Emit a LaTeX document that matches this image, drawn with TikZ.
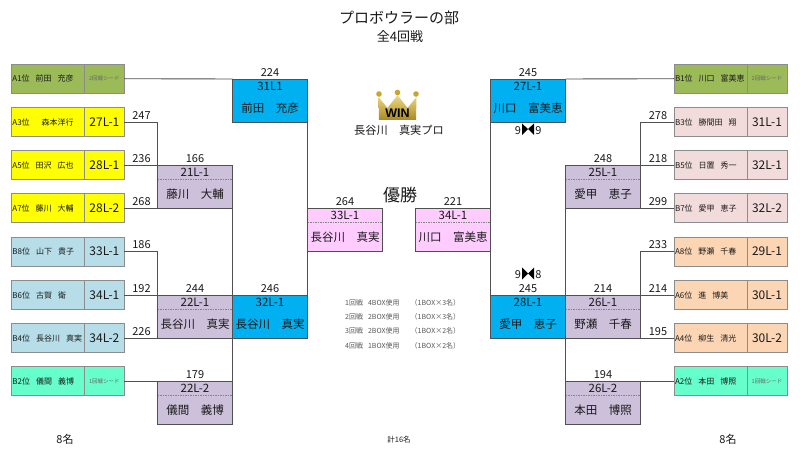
\documentclass[tikz,border=0pt]{standalone}
\usepackage{fontspec}
\setmainfont{Noto Sans CJK JP}
\newfontfamily\winfont{Liberation Sans}
\definecolor{olv}{HTML}{9BBB59}
\definecolor{yel}{HTML}{FFFF00}
\definecolor{lbl}{HTML}{B7DDE8}
\definecolor{sea}{HTML}{66FFCC}
\definecolor{pnk}{HTML}{F2DCDB}
\definecolor{org}{HTML}{FCD5B4}
\definecolor{mau}{HTML}{CCC0DA}
\definecolor{blu}{HTML}{00B0F0}
\definecolor{lil}{HTML}{FFCCFF}
\definecolor{ink}{HTML}{1A1A1A}
\definecolor{wire}{HTML}{505050}
\definecolor{goldlight}{HTML}{EFD98A}
\definecolor{goldmid}{HTML}{C9A52F}
\definecolor{golddark}{HTML}{A98A20}
\newcommand{\gp}{\hspace{6pt}}
\newcommand{\fs}[1]{\fontsize{#1}{#1}\selectfont}
\tikzset{
  namecell/.style={draw=black!45,line width=0.7pt,outer sep=0pt,minimum height=29pt,text width=71pt,inner xsep=1pt,inner ysep=0pt,align=left,anchor=west,font=\fs{8},text=ink},
  roundcell/.style={draw=black!45,line width=0.7pt,outer sep=0pt,minimum height=29pt,minimum width=40pt,inner sep=0pt,anchor=west,font=\fs{12},text=ink},
  seedcell/.style={roundcell,font=\fs{5.5},text=black!60},
  matchcell/.style={draw=wire,line width=0.8pt,outer sep=0pt,minimum width=75pt,minimum height=43pt,inner sep=0pt,anchor=north west},
  matchlabel/.style={font=\fs{11.5},text=ink,inner sep=0pt},
  playername/.style={font=\fs{11.5},text=ink,inner sep=0pt},
  score/.style={font=\fs{11},text=ink,inner sep=0pt},
  note/.style={font=\fs{7},text=black!65,inner sep=0pt,anchor=base west},
  conn/.style={draw=wire,line width=0.9pt},
  dashline/.style={draw=wire!70,line width=0.4pt,dash pattern=on 1.5pt off 1pt}
}
% \listrow{name}{x}{y}{fill}{player}{round}{style}
\newcommand{\listrow}[7]{%
  \node[namecell,fill=#4] (#1) at (#2,#3) {#5};
  \node[#7,fill=#4] (#1r) at (#1.east) {#6};
}
% \matchbox{name}{x}{y}{fill}{label}{player}
\newcommand{\matchbox}[6]{%
  \node[matchcell,fill=#4] (#1) at (#2,#3) {};
  \draw[dashline] ([yshift=-14pt]#1.north west) -- ([yshift=-14pt]#1.north east);
  \node[matchlabel] (#1lab) at ([yshift=-7.5pt]#1.north) {#5};
  \node[playername] (#1who) at ([yshift=-29pt]#1.north) {#6};
}
\begin{document}
\begin{tikzpicture}[x=1pt,y=-1pt]
\useasboundingbox[fill=white] (0,0) rectangle (800,457);
% titles
\node[inner sep=0pt,font=\fs{15},text=ink] (title) at (399,18) {プロボウラーの部};
\node[inner sep=0pt,font=\fs{13},text=ink] (subtitle) at (400,37) {全4回戦};
\node[inner sep=0pt,font=\fs{17},text=ink] (champ) at (400,195) {優勝};
% crown
\shade[top color=goldlight,middle color=goldmid,bottom color=golddark]
  (379,120) -- (378.5,97) -- (387.5,108) -- (397.5,95) -- (407.5,108) -- (416.5,97) -- (416,120) -- cycle;
\fill[goldmid] (379,94) circle (2.8) (397.5,92.5) circle (2.8) (416,94) circle (2.8);
\node[inner sep=0pt,font=\winfont\bfseries\fs{12.5},text=black] (win) at (397.5,113) {WIN};
\node[inner sep=0pt,font=\fs{11.2},text=ink] (winner) at (399,130) {長谷川　真実プロ};
% left list
\listrow{aa}{11.4}{78.7}{olv}{A1位\gp 前田\gp 充彦}{2回戦シード}{seedcell}
\listrow{ab}{11.4}{122}{yel}{A3位\hspace{12pt}森本洋行}{27L-1}{roundcell}
\listrow{ac}{11.4}{165}{yel}{A5位\gp 田沢\gp 広也}{28L-1}{roundcell}
\listrow{ad}{11.4}{208}{yel}{A7位\gp 藤川\gp 大輔}{28L-2}{roundcell}
\listrow{ae}{11.4}{251.5}{lbl}{B8位\gp 山下\gp 貴子}{33L-1}{roundcell}
\listrow{af}{11.4}{295}{lbl}{B6位\gp 古賀\gp 衛}{34L-1}{roundcell}
\listrow{ag}{11.4}{338}{lbl}{B4位\gp 長谷川\gp 真実}{34L-2}{roundcell}
\listrow{ah}{11.4}{381}{sea}{B2位\gp 儀間\gp 義博}{1回戦シード}{seedcell}
% right list
\listrow{ba}{674}{78.7}{olv}{B1位\gp 川口\gp 富美恵}{2回戦シード}{seedcell}
\listrow{bb}{674}{122}{pnk}{B3位\gp 勝間田\gp 翔}{31L-1}{roundcell}
\listrow{bc}{674}{165}{pnk}{B5位\gp 日置\gp 秀一}{32L-1}{roundcell}
\listrow{bd}{674}{208}{pnk}{B7位\gp 愛甲\gp 恵子}{32L-2}{roundcell}
\listrow{be}{674}{251.5}{org}{A8位\gp 野瀬\gp 千春}{29L-1}{roundcell}
\listrow{bf}{674}{295}{org}{A6位\gp 進\gp 博美}{30L-1}{roundcell}
\listrow{bg}{674}{338}{org}{A4位\gp 柳生\gp 清光}{30L-2}{roundcell}
\listrow{bh}{674}{381}{sea}{A2位\gp 本田\gp 博照}{1回戦シード}{seedcell}
% matches left
\matchbox{mla}{232.5}{79}{blu}{31L1}{前田　充彦}
\matchbox{mlb}{157.5}{165}{mau}{21L-1}{藤川　大輔}
\matchbox{mlc}{157.5}{295}{mau}{22L-1}{長谷川　真実}
\matchbox{mld}{232.5}{295}{blu}{32L-1}{長谷川　真実}
\matchbox{mle}{157.5}{381}{mau}{22L-2}{儀間　義博}
\matchbox{mlf}{307.5}{208}{lil}{33L-1}{長谷川　真実}
% matches right
\matchbox{mrf}{415.5}{208}{lil}{34L-1}{川口　富美恵}
\matchbox{mra}{490.5}{79}{blu}{27L-1}{川口　富美恵}
\matchbox{mrb}{565.5}{165}{mau}{25L-1}{愛甲　恵子}
\matchbox{mrd}{490.5}{295}{blu}{28L-1}{愛甲　恵子}
\matchbox{mrc}{565.5}{295}{mau}{26L-1}{野瀬　千春}
\matchbox{mre}{565.5}{381}{mau}{26L-2}{本田　博照}
% connectors left
\draw[conn] (aar.east) -- (mla.north west);
\draw[conn] (abr.east) -| (mlb.north west);
\draw[conn] (acr.east) -- (mlb.north west);
\draw[conn] (adr.east) -- (mlb.south west);
\draw[conn] (aer.east) -| (mlc.north west);
\draw[conn] (afr.east) -- (mlc.north west);
\draw[conn] (agr.east) -- (mlc.south west);
\draw[conn] (ahr.east) -- (mle.north west);
\draw[conn] (mlb.south east) -- (mle.north east);
\draw[conn] (mla.south east) -- (mlf.north west);
\draw[conn] (mlf.south west) -- (mld.north east);
% connectors right
\draw[conn] (ba.west) -- (mra.north east);
\draw[conn] (bb.west) -| (mrb.north east);
\draw[conn] (bc.west) -- (mrb.north east);
\draw[conn] (bd.west) -- (mrb.south east);
\draw[conn] (be.west) -| (mrc.north east);
\draw[conn] (bf.west) -- (mrc.north east);
\draw[conn] (bg.west) -- (mrc.south east);
\draw[conn] (bh.west) -- (mre.north east);
\draw[conn] (mrb.south west) -- (mre.north west);
\draw[conn] (mra.south west) -- (mrf.north east);
\draw[conn] (mrf.south east) -- (mrd.north west);
% scores
\node[score] (s1) at (270,73) {224};
\node[score] (s2) at (141.5,116) {247};
\node[score] (s3) at (141.5,159) {236};
\node[score] (s4) at (141.5,202) {268};
\node[score] (s5) at (141.5,245) {186};
\node[score] (s6) at (141.5,289) {192};
\node[score] (s7) at (141.5,332) {226};
\node[score] (s8) at (195,159) {166};
\node[score] (s9) at (195,289) {244};
\node[score] (s10) at (270,289) {246};
\node[score] (s11) at (195,375) {179};
\node[score] (s12) at (345,202) {264};
\node[score] (s13) at (453,202) {221};
\node[score] (s14) at (528,73) {245};
\node[score] (s15) at (528,289) {245};
\node[score] (s16) at (603,159) {248};
\node[score] (s17) at (603,289) {214};
\node[score] (s18) at (603,375) {194};
\node[score] (s19) at (658,116) {278};
\node[score] (s20) at (658,159) {218};
\node[score] (s21) at (658,202) {299};
\node[score] (s22) at (658,245) {233};
\node[score] (s23) at (658,289) {214};
\node[score] (s24) at (658,332) {195};
% frame scores with bowties
\node[score] (t1) at (518,131) {9};
\node[score] (t2) at (538.5,131) {9};
\fill[black] (522,123.5) -- (528,129) -- (534,123.5) -- (534,135) -- (528,129) -- (522,135) -- cycle;
\node[score] (t3) at (518,274.5) {9};
\node[score] (t4) at (538.5,274.5) {8};
\fill[black] (522,267.5) -- (528,273.5) -- (534,267.5) -- (534,279.5) -- (528,273.5) -- (522,279.5) -- cycle;
% notes
\node[note] (n1) at (345,305) {1回戦\hspace{5pt}4BOX使用};
\node[note] (n1b) at (410.5,305) {（1BOX×3名）};
\node[note] (n2) at (345,319.5) {2回戦\hspace{5pt}2BOX使用};
\node[note] (n2b) at (410.5,319.5) {（1BOX×3名）};
\node[note] (n3) at (345,333.5) {3回戦\hspace{5pt}2BOX使用};
\node[note] (n3b) at (410.5,333.5) {（1BOX×2名）};
\node[note] (n4) at (345,348) {4回戦\hspace{5pt}1BOX使用};
\node[note] (n4b) at (410.5,348) {（1BOX×2名）};
% footer
\node[inner sep=0pt,font=\fs{11},text=ink] (fl) at (65,439) {8名};
\node[inner sep=0pt,font=\fs{11},text=ink] (fr) at (728,439) {8名};
\node[inner sep=0pt,font=\fs{7.5},text=ink] (fc) at (399,440) {計16名};
\end{tikzpicture}
\end{document}
